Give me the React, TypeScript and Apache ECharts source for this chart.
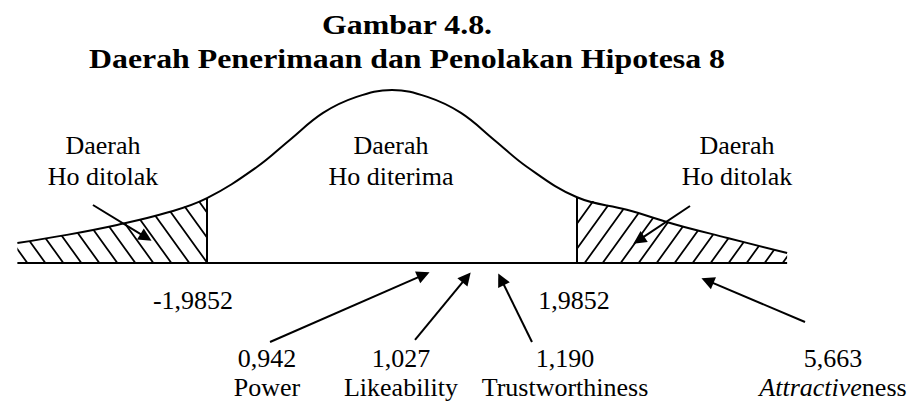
import React, { useEffect, useRef } from 'react';
import * as echarts from 'echarts';

// ---- figure text ----
const titleLines = ['Gambar 4.8.', 'Daerah Penerimaan dan Penolakan Hipotesa 8'];

// ---- distribution curve (z, relative density) ----
const curveZ = [-4.02, -3.49, -2.95, -2.42, -1.9852, -1.45, -1.1, -0.74, -0.38, 0, 0.38, 0.74, 1.1, 1.45, 1.9852, 2.52, 3.06, 3.6, 4.24];
const curveDensity = [0.046, 0.065, 0.088, 0.116, 0.15, 0.222, 0.284, 0.347, 0.384, 0.4, 0.384, 0.347, 0.284, 0.222, 0.152, 0.123, 0.088, 0.058, 0.023];

// ---- critical value and its tick labels ----
const criticalValue = 1.9852;
const criticalLabels = ['-1,9852', '1,9852'];

// ---- region captions (left tail, centre, right tail) ----
const regionTitles = ['Daerah', 'Daerah', 'Daerah'];
const regionNames = ['Ho ditolak', 'Ho diterima', 'Ho ditolak'];

// ---- t statistics per variable ----
const tValues = [0.942, 1.027, 1.19, 5.663];
const variableNames = ['Power', 'Likeability', 'Trustworthiness', 'Attractiveness'];
const italicPrefix = ['', '', '', 'Attractive'];

// plot window in (z, density) units
const Z_MIN = -4.2065;
const Z_MAX = 5.6122;
const D_MIN = -0.3214;
const D_MAX = 0.6081;

// callout arrows, [tail, head] in plot units
const regionArrows = [
  [[-3.209, 0.1341], [-2.64, 0.0592]],
  [[3.198, 0.1318], [2.648, 0.0529]],
];
const valueArrows = [
  [[-1.309, -0.1827], [0.339, -0.0273]],
  [[0.247, -0.178], [0.8, -0.0333]],
  [[1.502, -0.1827], [1.171, -0.0377]],
  [[4.432, -0.1364], [3.385, -0.0409]],
];

// text anchor positions (pixels)
const regionLabelX = [103, 391, 737];
const criticalLabelX = [193, 574];
const valueLabelX = [267, 401, 565, 833];

const SERIF = '"Liberation Serif", "Times New Roman", Times, serif';

function hatchPattern(forward: boolean) {
  const w = 18;
  const h = 25;
  const c = document.createElement('canvas');
  c.width = w;
  c.height = h;
  const ctx = c.getContext('2d');
  if (ctx) {
    ctx.strokeStyle = '#000';
    ctx.lineWidth = 1.8;
    ctx.beginPath();
    for (let k = -2; k <= 2; k++) {
      if (forward) {
        ctx.moveTo(k * w - w, 2 * h);
        ctx.lineTo(k * w + 2 * w, -h);
      } else {
        ctx.moveTo(k * w - w, -h);
        ctx.lineTo(k * w + 2 * w, 2 * h);
      }
    }
    ctx.stroke();
  }
  return { image: c, repeat: 'repeat', imageWidth: w, imageHeight: h };
}

function textEl(text: string, x: number, y: number, size: number, extra: any = {}) {
  return {
    type: 'text',
    x,
    y,
    silent: true,
    ...extra,
    style: {
      text,
      fill: '#000',
      fontSize: size,
      fontFamily: SERIF,
      fontWeight: extra.bold ? 'bold' : 'normal',
      align: 'center',
      textAlign: 'center',
      verticalAlign: 'middle',
      textVerticalAlign: 'middle',
      ...(extra.style || {}),
    },
  };
}

export default function App() {
  const ref = useRef<HTMLDivElement>(null);

  useEffect(() => {
    if (!ref.current) return;
    const chart = echarts.init(ref.current, null, { renderer: 'svg' });

    const points = curveZ.map((z, i) => [z, curveDensity[i]]);
    const leftTail = points.filter((p) => p[0] <= -criticalValue);
    const rightTail = points.filter((p) => p[0] >= criticalValue);
    const cutLeftH = curveDensity[curveZ.indexOf(-criticalValue)];
    const cutRightH = curveDensity[curveZ.indexOf(criticalValue)];
    const zFirst = curveZ[0];
    const zLast = curveZ[curveZ.length - 1];

    const smooth = 0.4;

    const elements: any[] = [];
    titleLines.forEach((t, i) => {
      elements.push(
        textEl(t, 407, i === 0 ? 25 : 59, 27, { scaleX: 1.18, style: { fontWeight: 'bold' } })
      );
    });
    regionLabelX.forEach((x, i) => {
      elements.push(textEl(regionTitles[i], x, 145, 26));
      elements.push(textEl(regionNames[i], x, 176, 26));
    });
    criticalLabels.forEach((t, i) => {
      elements.push(textEl(t, criticalLabelX[i], 300, 26));
    });
    tValues.forEach((v, i) => {
      elements.push(textEl(v.toFixed(3).replace('.', ','), valueLabelX[i], 358, 26));
      const name = variableNames[i];
      const pre = italicPrefix[i];
      if (pre && name.startsWith(pre)) {
        elements.push(
          textEl(`{i|${pre}}{n|${name.slice(pre.length)}}`, valueLabelX[i], 387, 26, {
            style: {
              rich: {
                i: { fontSize: 26, fontFamily: SERIF, fontStyle: 'italic', fill: '#000' },
                n: { fontSize: 26, fontFamily: SERIF, fill: '#000' },
              },
            },
          })
        );
      } else {
        elements.push(textEl(name, valueLabelX[i], 387, 26));
      }
    });

    const arrowData = [...regionArrows, ...valueArrows].map((a) => ({ coords: a }));

    chart.setOption({
      animation: false,
      backgroundColor: '#fff',
      grid: { left: 0, right: 0, top: 0, bottom: 0, containLabel: false },
      xAxis: { type: 'value', min: Z_MIN, max: Z_MAX, show: false },
      yAxis: { type: 'value', min: D_MIN, max: D_MAX, show: false },
      graphic: { elements },
      series: [
        {
          type: 'line',
          data: leftTail,
          smooth,
          symbol: 'none',
          silent: true,
          lineStyle: { width: 0, opacity: 0 },
          itemStyle: { color: '#000' },
          areaStyle: { color: hatchPattern(false), opacity: 1 },
          z: 1,
        },
        {
          type: 'line',
          data: rightTail,
          smooth,
          symbol: 'none',
          silent: true,
          lineStyle: { width: 0, opacity: 0 },
          itemStyle: { color: '#000' },
          areaStyle: { color: hatchPattern(true), opacity: 1 },
          z: 1,
        },
        {
          type: 'line',
          data: points,
          smooth,
          symbol: 'none',
          silent: true,
          lineStyle: { color: '#000', width: 2 },
          itemStyle: { color: '#000' },
          z: 3,
        },
        {
          type: 'lines',
          coordinateSystem: 'cartesian2d',
          silent: true,
          symbol: 'none',
          lineStyle: { color: '#000', width: 2, opacity: 1 },
          data: [
            { coords: [[zFirst, 0], [zLast, 0]] },
            { coords: [[-criticalValue, 0], [-criticalValue, cutLeftH]] },
            { coords: [[criticalValue, 0], [criticalValue, cutRightH]] },
          ],
          z: 4,
        },
        {
          type: 'lines',
          coordinateSystem: 'cartesian2d',
          silent: true,
          symbol: ['none', 'triangle'],
          symbolSize: 13,
          lineStyle: { color: '#000', width: 2, opacity: 1 },
          itemStyle: { color: '#000' },
          data: arrowData,
          z: 5,
        },
      ],
    });

    return () => chart.dispose();
  }, []);

  return (
    <div
      ref={ref}
      style={{ position: 'absolute', left: 0, top: 0, width: 915, height: 402, background: '#fff' }}
    />
  );
}
